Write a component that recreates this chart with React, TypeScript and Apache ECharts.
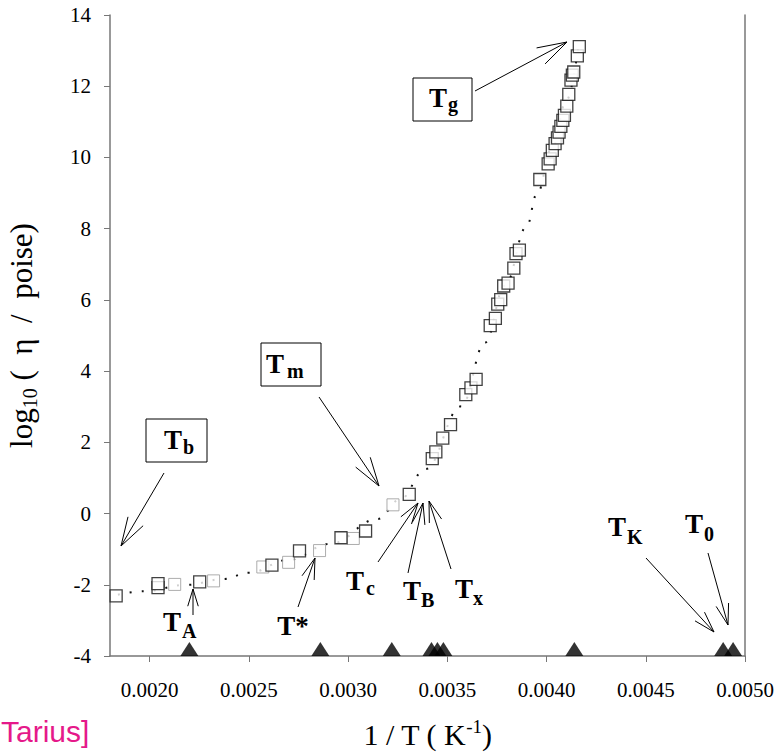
import React, { useEffect, useRef } from "react";
import * as echarts from "echarts";

// ---- data ----
const squareX = [0.001831, 0.002042, 0.002042, 0.002252, 0.002616, 0.002755, 0.002964, 0.003088, 0.003308,
  0.003424, 0.003442, 0.003477, 0.003516, 0.003593, 0.003619, 0.003645,
  0.003716, 0.003742, 0.003754, 0.003769, 0.003784, 0.003806, 0.003835, 0.003846, 0.003863,
  0.003966, 0.004008, 0.004018, 0.004029, 0.004043, 0.004055, 0.004063, 0.004072, 0.004082, 0.00409,
  0.004102, 0.004112, 0.004123, 0.00413, 0.004137, 0.004155, 0.004165];
const squareY = [-2.31, -2.08, -1.97, -1.92, -1.45, -1.05, -0.68, -0.49, 0.54,
  1.54, 1.73, 2.12, 2.5, 3.34, 3.53, 3.77,
  5.28, 5.48, 5.88, 6.01, 6.39, 6.47, 6.89, 7.3, 7.4,
  9.38, 9.82, 9.96, 10.2, 10.39, 10.55, 10.71, 10.87, 11.04, 11.18,
  11.44, 11.77, 12.17, 12.31, 12.4, 12.85, 13.11];
const lightX = [0.002126, 0.002322, 0.00257, 0.0027, 0.002856, 0.003026, 0.003226];
const lightY = [-1.99, -1.89, -1.5, -1.37, -1.04, -0.7, 0.245];
const triangleX = [0.0022, 0.00286, 0.00322, 0.00342, 0.00345, 0.00348, 0.00414, 0.00489, 0.00494];
const triangleY = -4;
const curveX = [0.00184, 0.00197, 0.00219, 0.00237, 0.0025, 0.0027, 0.00291, 0.00315, 0.00326, 0.00339,
  0.00357, 0.00369, 0.00379, 0.0039, 0.00395, 0.00403, 0.0041, 0.00416];
const curveY = [-2.28, -2.18, -2.0, -1.84, -1.66, -1.3, -0.85, -0.15, 0.39, 1.25,
  3.01, 4.8, 6.4, 8.06, 8.96, 10.3, 11.6, 13.1];
const xTicks = [0.002, 0.0025, 0.003, 0.0035, 0.004, 0.0045, 0.005];
const yTicks = [-4, -2, 0, 2, 4, 6, 8, 10, 12, 14];
const xMin = 0.0018, xMax = 0.005, yMin = -4, yMax = 14;

const SERIF = "Liberation Serif";
const SERIF_STACK = '"Liberation Serif", "Times New Roman", serif';

type Lab = { t: string; sub?: string; tx: number; ty: number; sx?: number; sy?: number; box?: number[] };
const labels: Lab[] = [
  { t: "T", sub: "g", tx: 438, ty: 98, sx: 448, sy: 104, box: [413, 78, 59, 43] },
  { t: "T", sub: "m", tx: 275, ty: 364, sx: 287, sy: 371, box: [261, 343, 60, 43] },
  { t: "T", sub: "b", tx: 173, ty: 440, sx: 183, sy: 447, box: [146, 419, 61, 43] },
  { t: "T", sub: "A", tx: 172, ty: 622, sx: 182, sy: 631 },
  { t: "T*", tx: 293, ty: 626 },
  { t: "T", sub: "c", tx: 355, ty: 581, sx: 366, sy: 588 },
  { t: "T", sub: "B", tx: 412, ty: 591, sx: 421, sy: 600 },
  { t: "T", sub: "x", tx: 464, ty: 589, sx: 473, sy: 598 },
  { t: "T", sub: "K", tx: 617, ty: 527, sx: 627, sy: 537 },
  { t: "T", sub: "0", tx: 694, ty: 524, sx: 704, sy: 534 },
];
const arrows = [
  [475, 91, 567, 42, 31],
  [319, 397, 379, 486, 30],
  [164, 473, 121, 546, 30],
  [193, 615, 193, 589, 18],
  [298, 607, 315, 558, 22],
  [378, 562, 418, 503, 22],
  [408, 573, 423, 503, 22],
  [451, 569, 429, 501, 22],
  [646, 558, 714, 632, 22],
  [708, 553, 728, 625, 22],
];

function arrowEls(a: number[]) {
  const [x1, y1, x2, y2, len] = a;
  const ang = Math.atan2(y1 - y2, x1 - x2);
  const d = (17 * Math.PI) / 180;
  const st = { stroke: "#000", lineWidth: 1 };
  const els: any[] = [{ type: "line", shape: { x1, y1, x2, y2 }, style: st }];
  for (const s of [-1, 1]) {
    els.push({
      type: "line",
      shape: { x1: x2, y1: y2, x2: x2 + len * Math.cos(ang + s * d), y2: y2 + len * Math.sin(ang + s * d) },
      style: st,
    });
  }
  return els;
}

function textEl(x: number, y: number, text: string, size: number, align: string, bold = false) {
  return {
    type: "text", x, y,
    style: {
      text, font: `${bold ? "bold " : ""}${size}px ${SERIF_STACK}`, fill: "#000",
      textAlign: align, textVerticalAlign: "middle", align, verticalAlign: "middle",
    },
  };
}

function labelEls(l: Lab) {
  const els: any[] = [];
  if (l.box) {
    els.push({ type: "rect", shape: { x: l.box[0], y: l.box[1], width: l.box[2], height: l.box[3] }, style: { fill: "#fff", stroke: "#000", lineWidth: 1 } });
  }
  els.push(textEl(l.tx, l.ty, l.t, 27, "center", true));
  if (l.sub) els.push(textEl(l.sx!, l.sy!, l.sub, 20, "left", true));
  return els;
}

export default function App() {
  const ref = useRef<HTMLDivElement>(null);
  useEffect(() => {
    if (!ref.current) return;
    const chart = echarts.init(ref.current, undefined, { renderer: "svg" });
    const axisGray = "#777";
    chart.setOption({
      animation: false,
      backgroundColor: "#fff",
      grid: { left: 110, right: 35, top: 15, bottom: 97, containLabel: false, outerBoundsMode: "none" },
      xAxis: {
        type: "value", min: xMin, max: xMax,
        name: "{a|1 / T ( K}{s|-1}{a|)}", nameLocation: "middle", nameGap: 61,
        nameTextStyle: { rich: { a: { fontFamily: SERIF, fontSize: 30, color: "#000", lineHeight: 34 }, s: { fontFamily: SERIF, fontSize: 19, color: "#000", lineHeight: 34, padding: [0, 0, 16, 0] } } },
        axisLine: { show: true, onZero: false, lineStyle: { color: axisGray, width: 1.5 } },
        axisTick: { show: true, inside: false, length: 6, customValues: xTicks, lineStyle: { color: axisGray } },
        axisLabel: { show: false },
        splitLine: { show: false },
      },
      yAxis: [
        {
          type: "value", min: yMin, max: yMax, interval: 2,
          name: "{a|log}{s|10}{a| (  η  /  poise)}", nameLocation: "middle", nameGap: 71, nameRotate: 90,
          nameTextStyle: { rich: { a: { fontFamily: SERIF, fontSize: 31, color: "#000", lineHeight: 36 }, s: { fontFamily: SERIF, fontSize: 20, color: "#000", lineHeight: 36, padding: [18, 0, 0, 0] } } },
          axisLine: { show: true, onZero: false, lineStyle: { color: axisGray, width: 1.5 } },
          axisTick: { show: true, length: 6, lineStyle: { color: axisGray } },
          axisLabel: { show: false },
          splitLine: { show: false },
        },
        {
          type: "value", min: yMin, max: yMax, position: "right",
          axisLine: { show: true, onZero: false, lineStyle: { color: axisGray, width: 1.5 } },
          axisTick: { show: false }, axisLabel: { show: false }, splitLine: { show: false },
        },
      ],
      series: [
        {
          type: "line", data: curveX.map((x, i) => [x, curveY[i]]), smooth: 0.4, smoothMonotone: "x",
          showSymbol: false, symbol: "none", silent: true,
          lineStyle: { color: "#111", width: 2, type: [2, 10] }, z: 1,
        },
        {
          type: "scatter", data: lightX.map((x, i) => [x, lightY[i]]), symbol: "rect", symbolSize: 12,
          itemStyle: { color: "#fff", borderColor: "#999", borderWidth: 1 }, z: 2,
        },
        {
          type: "scatter", data: squareX.map((x, i) => [x, squareY[i]]), symbol: "rect", symbolSize: 12,
          itemStyle: { color: "#fff", borderColor: "#111", borderWidth: 1.3 }, z: 3,
        },
        {
          type: "scatter", data: triangleX.map((x) => [x, triangleY]), symbol: "triangle", symbolSize: [18, 14],
          symbolOffset: [0, -7], clip: false, itemStyle: { color: "#000" }, z: 4,
        },
      ],
    });

    const graphics: any[] = [];
    // tick labels placed through the axis scales
    xTicks.forEach((v) => {
      const p = chart.convertToPixel({ gridIndex: 0 }, [v, yMin]) as number[];
      graphics.push(textEl(p[0], p[1] + 34, v.toFixed(4), 21, "center"));
    });
    yTicks.forEach((v) => {
      const p = chart.convertToPixel({ gridIndex: 0 }, [xMin, v]) as number[];
      graphics.push(textEl(p[0] - 19, p[1], String(v), 21, "right"));
    });
    arrows.forEach((a) => graphics.push(...arrowEls(a)));
    labels.forEach((l) => graphics.push(...labelEls(l)));
    graphics.push({
      type: "text", x: 1, y: 746,
      style: { text: "Tarius]", font: '30px "Liberation Sans", Arial, sans-serif', fill: "#e5198a", textAlign: "left", textVerticalAlign: "bottom", align: "left", verticalAlign: "bottom" },
    });
    chart.setOption({ graphic: graphics });
    return () => chart.dispose();
  }, []);
  return <div ref={ref} style={{ position: "fixed", left: 0, top: 0, width: 780, height: 753 }} />;
}
